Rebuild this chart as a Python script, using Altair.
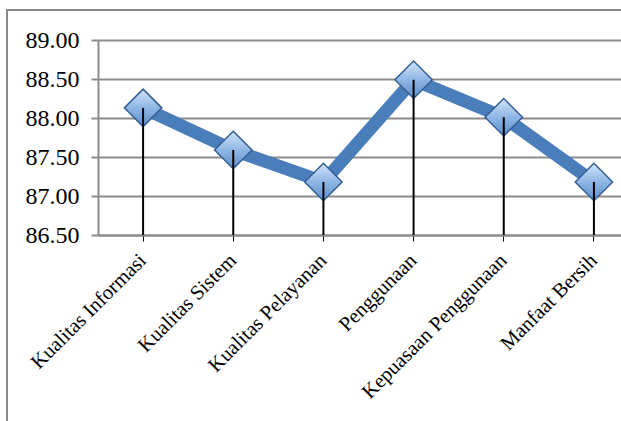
import altair as alt
import pandas as pd

categories = ["Kualitas Informasi", "Kualitas Sistem", "Kualitas Pelayanan",
              "Penggunaan", "Kepuasaan Penggunaan", "Manfaat Bersih"]
values = [88.13, 87.59, 87.18, 88.49, 88.01, 87.18]
y_ticks = [86.5, 87.0, 87.5, 88.0, 88.5, 89.0]

df = pd.DataFrame({"cat": categories, "val": values, "base": [86.5] * len(values)})

FONT = "Liberation Serif"
xscale = alt.Scale(domain=categories, range=[0, 541], paddingInner=0, paddingOuter=0)
yscale = alt.Scale(domain=[86.5, 89.0], nice=False, zero=False)

x_enc = alt.X("cat:N", sort=categories, scale=xscale, title=None,
              axis=alt.Axis(labelAngle=-45, labelAlign="right", labelBaseline="middle"))
y_enc = alt.Y("val:Q", scale=yscale, title=None,
              axis=alt.Axis(values=y_ticks, format=".2f"))

border = alt.Chart(df).mark_rect(fill=None, stroke="#8c8c8c", strokeWidth=2).encode(
    x=alt.value(-91), x2=alt.value(640), y=alt.value(-30), y2=alt.value(500)
)

line = alt.Chart(df).mark_line(color="#4a7ebb", strokeWidth=13, strokeJoin="miter").encode(
    x=x_enc, y=y_enc
)

grad = {"gradient": "linear", "x1": 0, "y1": 0, "x2": 0, "y2": 1,
        "stops": [{"offset": 0, "color": "#d2e4f8"},
                  {"offset": 0.5, "color": "#8fb6e6"},
                  {"offset": 1, "color": "#5f8fcb"}]}

points = alt.Chart(df).mark_point(shape="diamond", filled=True, size=1400,
                                  stroke="#355f94", strokeWidth=1.5, opacity=1).encode(
    x=x_enc, y=y_enc, fill=alt.value(grad)
)

stems = alt.Chart(df).mark_rule(color="black", strokeWidth=2).encode(
    x=x_enc, y=y_enc, y2="base:Q"
)

chart = alt.layer(border, line, points, stems).properties(
    width=523, height=195,
    padding={"left": 98, "top": 40, "right": 0, "bottom": 186},
    autosize=alt.AutoSizeParams(type="none")
).configure_view(stroke=None).configure(background="white", font=FONT).configure_axisX(
    labelFont=FONT, labelFontSize=20.5, labelColor="black",
    labelPadding=16, tickSize=6, tickColor="black", ticks=True,
    domainColor="#8c8c8c", domainWidth=2, grid=False,
    labelOverlap=False, labelLimit=300
).configure_axisY(
    labelFont=FONT, labelFontSize=24, labelColor="black", labelPadding=12,
    tickSize=7, tickColor="#8c8c8c", tickWidth=2, domainColor="#8c8c8c",
    domainWidth=2, gridColor="#8c8c8c", gridWidth=2, gridOpacity=1,
    labelOverlap=False, labelBound=False
)

chart.save("out.html", embed_options={"renderer": "svg", "actions": False})
